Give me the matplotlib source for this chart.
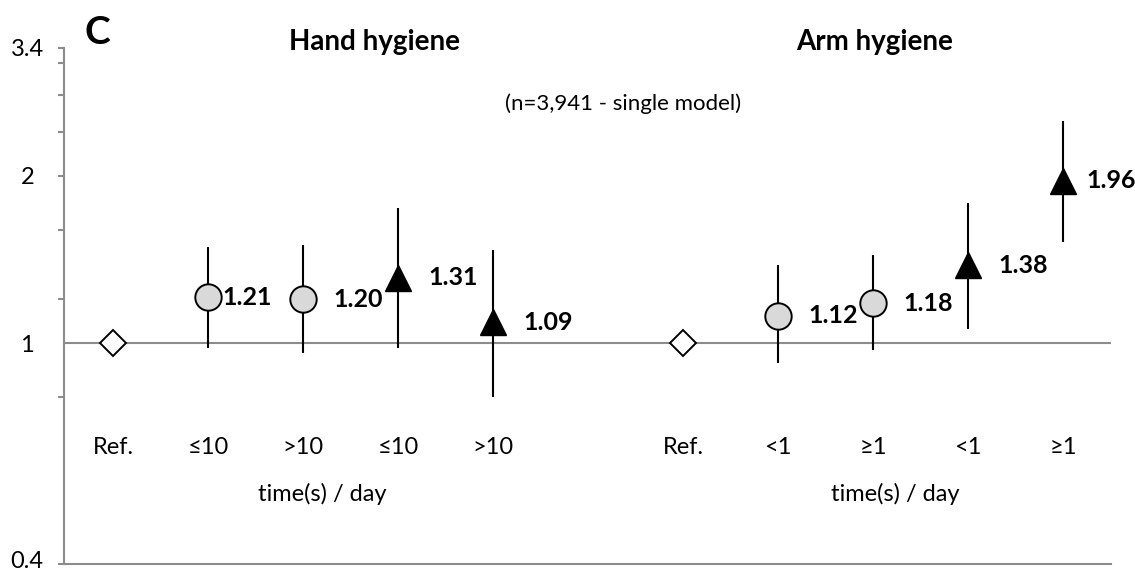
import matplotlib.pyplot as plt
from matplotlib.ticker import FixedLocator, NullFormatter
from matplotlib.transforms import ScaledTranslation

plt.rcParams['font.family'] = ['Lato', 'DejaVu Sans']

# Odds ratios with 95% CI (hand hygiene, then arm hygiene)
hand_labels = ['Ref.', '≤10', '>10', '≤10', '>10']
arm_labels = ['Ref.', '<1', '≥1', '<1', '≥1']
hand_or = [1.00, 1.21, 1.20, 1.31, 1.09]
hand_low = [None, 0.98, 0.96, 0.98, 0.80]
hand_high = [None, 1.49, 1.50, 1.75, 1.47]
arm_or = [1.00, 1.12, 1.18, 1.38, 1.96]
arm_low = [None, 0.92, 0.97, 1.06, 1.52]
arm_high = [None, 1.38, 1.44, 1.79, 2.51]
kinds = ['ref', 'circle', 'circle', 'tri', 'tri']

fig = plt.figure(figsize=(11.35, 5.71), dpi=100)
ax = fig.add_axes([64 / 1135, 7 / 571, 1046.7 / 1135, 516 / 571])

ax.set_yscale('log')
ax.set_ylim(0.4, 3.4)
ax.set_xlim(-0.516, 10.5)

axis_gray = '#8c8c8c'
ax.axhline(1, color=axis_gray, lw=1.5, zorder=1)

groups = [
    (0, hand_labels, hand_or, hand_low, hand_high),
    (6, arm_labels, arm_or, arm_low, arm_high),
]
# label x offsets in pixels (1.21 and 1.96 sit closer to their markers)
label_dx = {1.21: 14, 1.96: 23}

for start, labels, ors, lows, highs in groups:
    for i, (lab, v, lo, hi, kind) in enumerate(zip(labels, ors, lows, highs, kinds)):
        x = start + i
        if lo is not None:
            ax.vlines(x, lo, hi, color='black', lw=1.5, zorder=2)
        if kind == 'ref':
            ax.plot(x, v, marker='D', ms=13.5, mfc='white', mec='black', mew=1.4, zorder=3)
        else:
            if kind == 'circle':
                ax.plot(x, v, marker='o', ms=19, mfc='#d9d9d9', mec='black', mew=1.4, zorder=3)
            else:
                ax.plot(x, v, marker='^', ms=19, mfc='black', mec='black', zorder=3)
            ax.annotate(f'{v:.2f}', (x, v), xytext=(label_dx.get(v, 30), 0),
                        textcoords='offset pixels', ha='left', va='center',
                        fontsize=18, fontweight='bold')
        ax.text(x, 0.2267, lab, transform=ax.get_xaxis_transform(),
                ha='center', va='center', fontsize=17)

tr = ax.get_xaxis_transform()
ax.text(2.2, 0.1357, 'time(s) / day', transform=tr, ha='center', va='center', fontsize=17)
ax.text(8.23, 0.1357, 'time(s) / day', transform=tr, ha='center', va='center', fontsize=17)
ax.text(2.75, 1.012, 'Hand hygiene', transform=tr, ha='center', va='center',
        fontsize=20, fontweight='bold')
ax.text(8.02, 1.012, 'Arm hygiene', transform=tr, ha='center', va='center',
        fontsize=20, fontweight='bold')
ax.text(5.37, 0.893, '(n=3,941 - single model)', transform=tr, ha='center', va='center', fontsize=16)
ax.text(-0.16, 1.031, 'C', transform=tr, ha='center', va='center', fontsize=28, fontweight='bold')

# axes styling
for side in ['top', 'right']:
    ax.spines[side].set_visible(False)
for side in ['left', 'bottom']:
    ax.spines[side].set_color(axis_gray)
    ax.spines[side].set_linewidth(1.5)

ax.set_xticks([])
ax.yaxis.set_major_locator(FixedLocator([0.4, 1, 2, 3.4]))
ax.yaxis.set_minor_locator(FixedLocator([0.8, 1.2, 1.6, 2.4, 2.8, 3.2]))
ax.set_yticklabels(['0.4', '1', '2', '3.4'])
ax.yaxis.set_minor_formatter(NullFormatter())
ax.tick_params(axis='y', which='both', direction='out', length=4.5, width=1.5,
               color=axis_gray, labelsize=17, pad=22)
ax.yaxis.get_major_ticks()[1].tick1line.set_visible(False)
for lbl in ax.get_yticklabels():
    lbl.set_horizontalalignment('center')

# keep the bottom label inside the picture
bottom_label = ax.get_yticklabels()[0]
bottom_label.set_transform(bottom_label.get_transform() + ScaledTranslation(0, 5 / 100, fig.dpi_scale_trans))

fig.savefig('out.png', dpi=100)
